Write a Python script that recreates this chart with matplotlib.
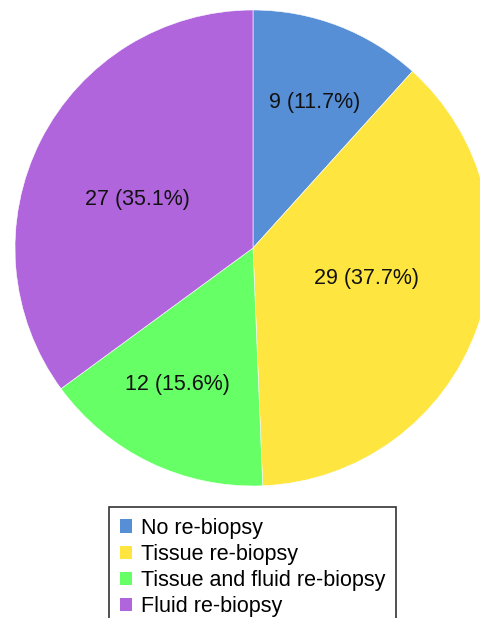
import numpy as np
import matplotlib.pyplot as plt

labels = ['No re-biopsy', 'Tissue re-biopsy', 'Tissue and fluid re-biopsy', 'Fluid re-biopsy']
counts = [9, 29, 12, 27]
colors = ['#568fd6', '#ffe540', '#66ff66', '#b065dc']
# label placement per slice: fraction of radius, angle shift (deg, clockwise)
label_r = [0.665, 0.495, 0.655, 0.525]
label_shift = [1.8, -5.0, 3.3, -4.0]

plt.rcParams['font.family'] = ['Liberation Sans', 'DejaVu Sans']

W, H = 480, 618
fig = plt.figure(figsize=(W / 100, H / 100), dpi=100)
cx, cy, r = 253, 248, 238
ax = fig.add_axes([(cx - r) / W, (H - cy - r) / H, 2 * r / W, 2 * r / H])

wedges, _ = ax.pie(counts, colors=colors, startangle=90, counterclock=False,
                   radius=1, wedgeprops=dict(edgecolor='white', linewidth=0.4))
ax.set_xlim(-1, 1)
ax.set_ylim(-1, 1)
ax.set_aspect('equal')
ax.axis('off')

total = sum(counts)
for w, n, rr, sh in zip(wedges, counts, label_r, label_shift):
    mid = np.deg2rad((w.theta1 + w.theta2) / 2 - sh)
    ax.text(rr * np.cos(mid), rr * np.sin(mid), f'{n} ({n / total * 100:.1f}%)',
            ha='center', va='center', fontsize=15.5, color='#111111')

leg = fig.legend(wedges, labels, loc='upper left',
                 bbox_to_anchor=(109 / W, 1 - 507 / H), fontsize=15.5,
                 frameon=True, fancybox=False, edgecolor='black',
                 handlelength=0.58, handleheight=0.58, handletextpad=0.42,
                 borderpad=0.5, labelspacing=0.24, borderaxespad=0)
leg.get_frame().set_linewidth(1.2)
for h in leg.legend_handles:
    h.set_edgecolor('none')

fig.savefig('out.png', dpi=100)
